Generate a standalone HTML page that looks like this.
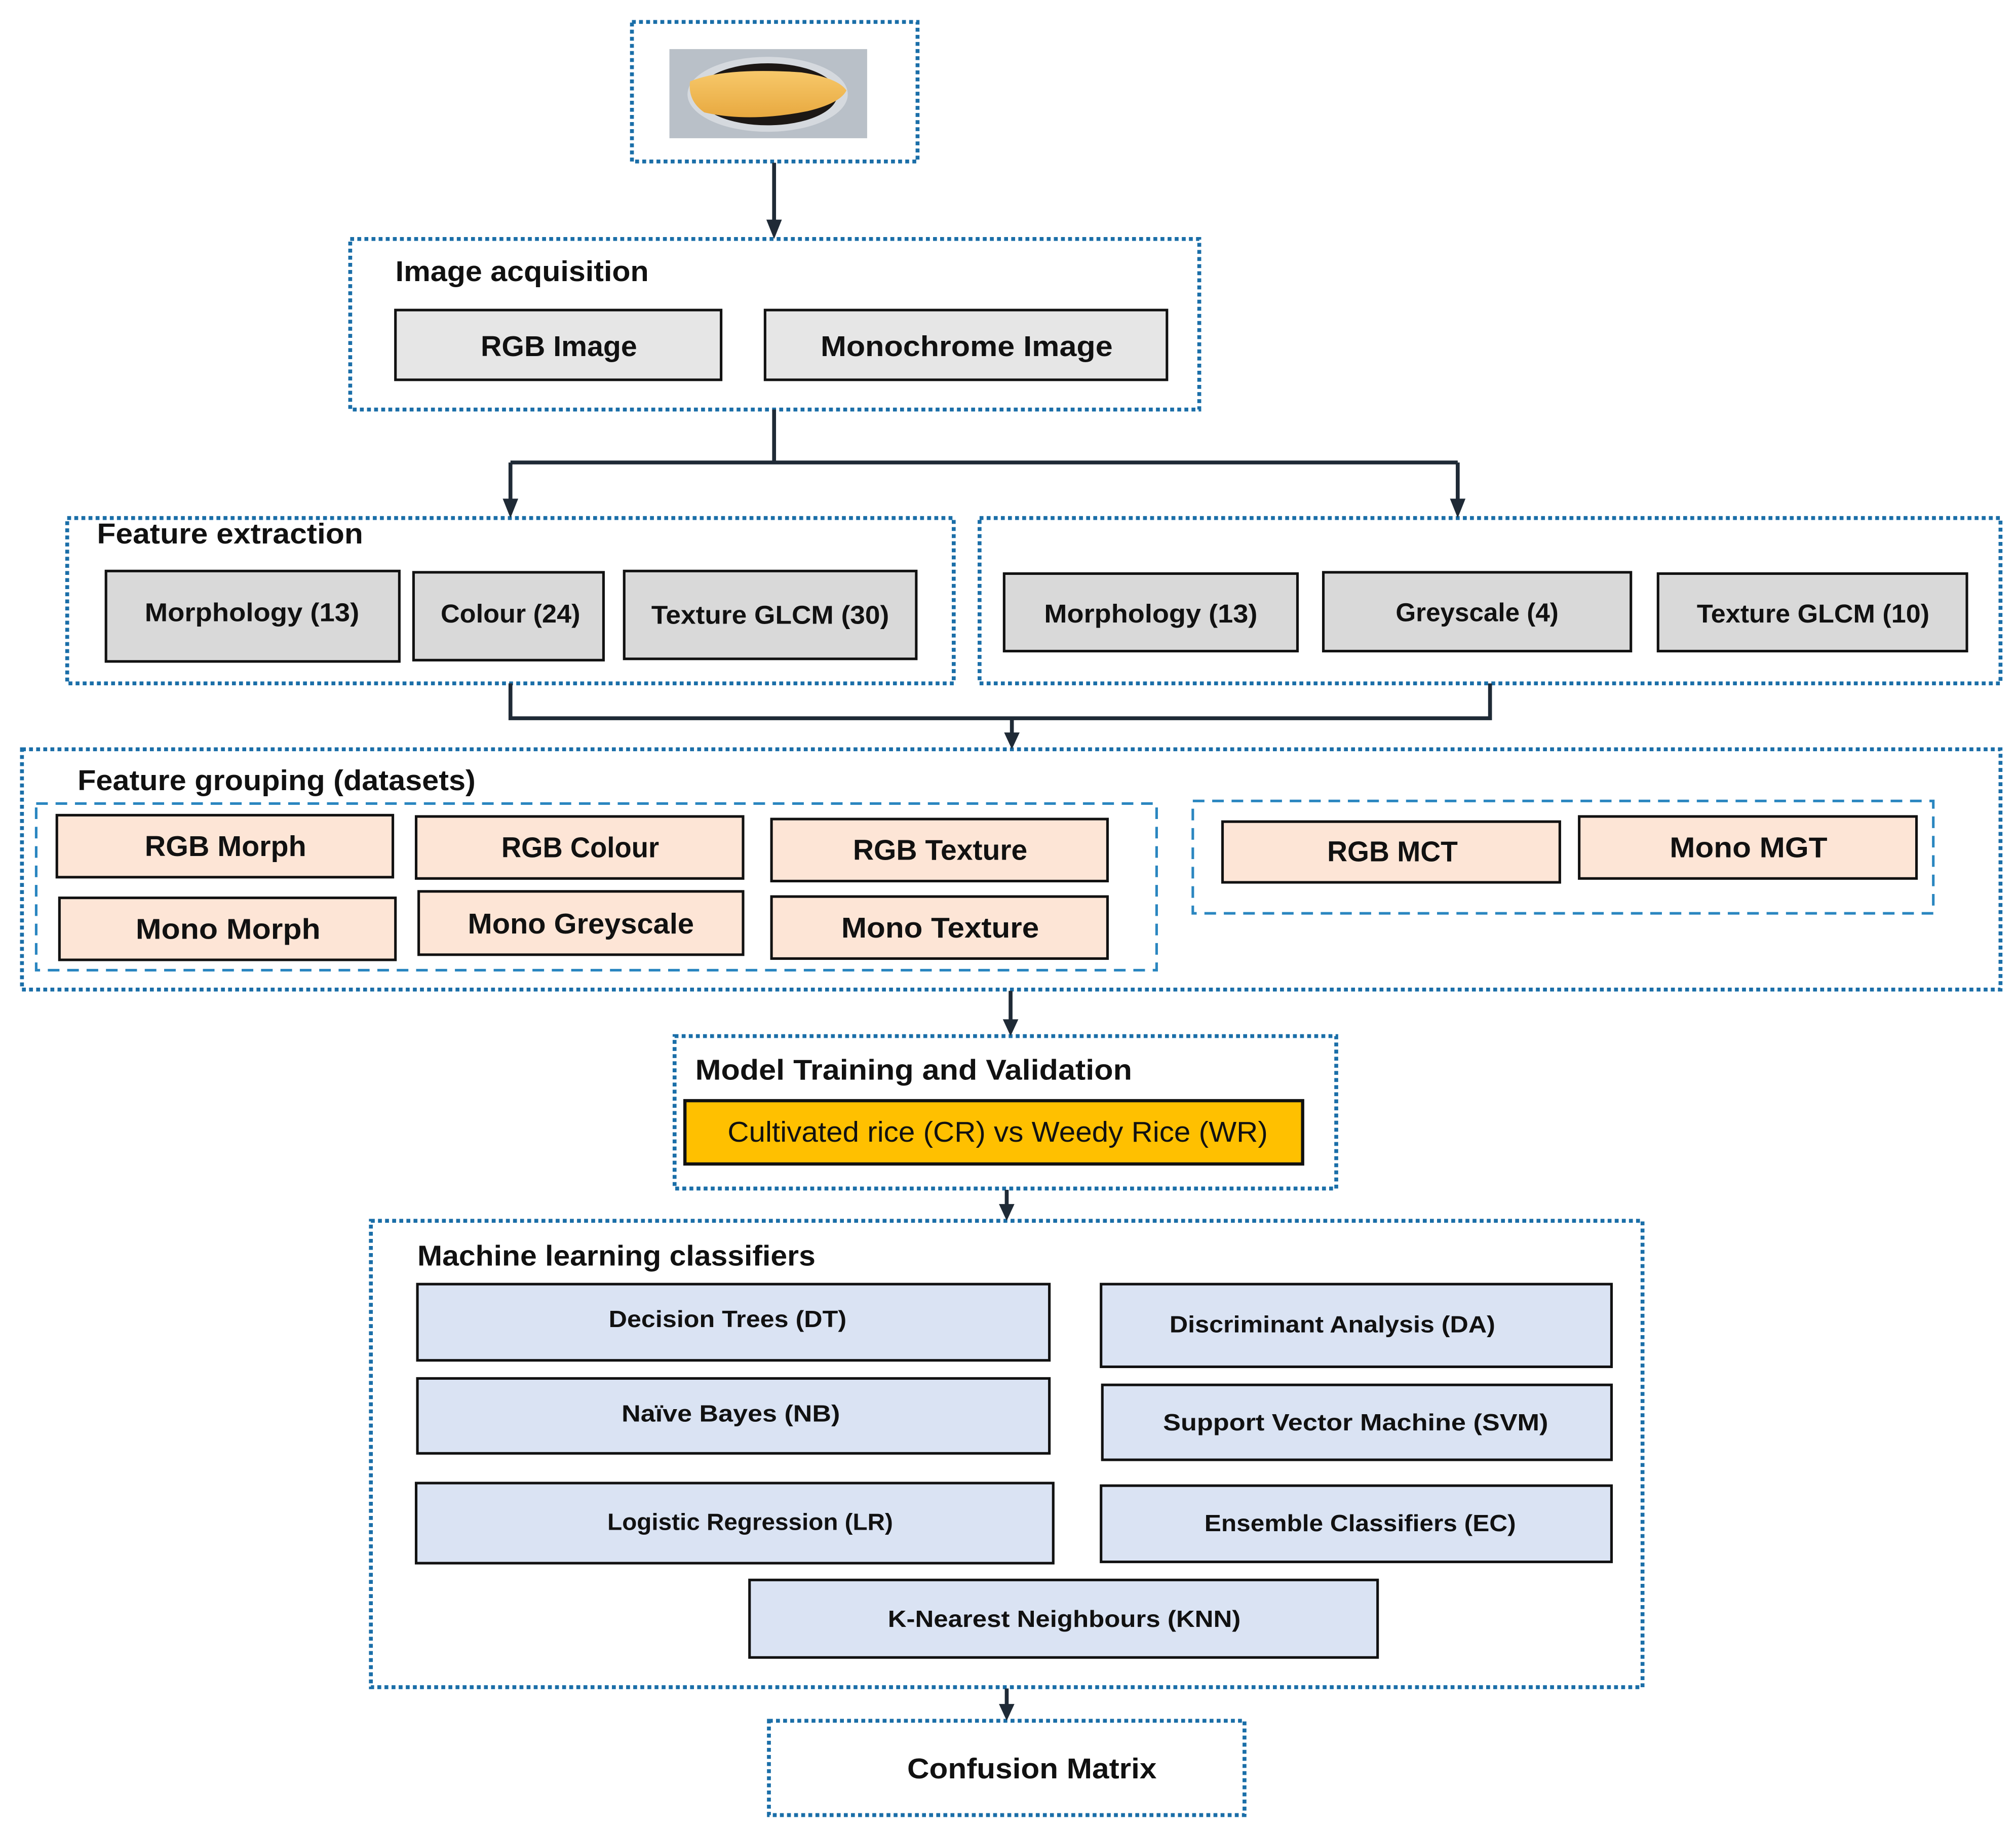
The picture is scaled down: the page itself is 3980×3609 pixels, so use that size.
<!DOCTYPE html>
<html><head><meta charset="utf-8"><style>html,body{margin:0;padding:0;background:#fff}svg{display:block}</style></head>
<body>
<svg width="3980" height="3609" viewBox="0 0 1560 1415" preserveAspectRatio="none" xmlns="http://www.w3.org/2000/svg" font-family="Liberation Sans, sans-serif" font-weight="bold">
<defs>
<linearGradient id="g" x1="0" y1="0" x2="0" y2="1"><stop offset="0" stop-color="#f7c86a"/><stop offset="1" stop-color="#e8a940"/></linearGradient>
</defs>
<g fill="none" stroke="#1a6ea8" stroke-width="3" stroke-dasharray="3 2.5">
<rect x="489" y="17" width="221" height="108"/>
<rect x="271" y="185" width="657" height="132"/>
<rect x="52" y="401" width="686" height="128"/>
<rect x="758" y="401" width="790" height="128"/>
<rect x="17" y="580" width="1531" height="186"/>
<rect x="522" y="802" width="512" height="118"/>
<rect x="287" y="945" width="984" height="361"/>
<rect x="595" y="1332" width="368" height="73"/>
</g>
<g fill="none" stroke="#2a86c0" stroke-width="2" stroke-dasharray="9 6">
<rect x="28" y="622" width="867" height="129"/>
<rect x="923" y="620" width="573" height="87"/>
</g>
<!-- rice image -->
<rect x="518" y="38" width="153" height="69" fill="#b9c0c8"/>
<ellipse cx="594" cy="73" rx="62" ry="29" fill="#d5d9de"/>
<ellipse cx="594" cy="73" rx="54" ry="24" fill="#1c1714"/>
<path d="M534,63 Q560,52 620,56 Q648,60 655,70 Q650,80 625,86 Q580,95 545,87 Q532,78 534,63 Z" fill="url(#g)"/>
<!-- connectors -->
<g stroke="#1f2a36" stroke-width="3" fill="none">
<line x1="599" y1="126" x2="599" y2="172"/>
<polyline points="599,317 599,358"/>
<line x1="395" y1="358" x2="1128" y2="358"/>
<line x1="395" y1="358" x2="395" y2="390"/>
<line x1="1128" y1="358" x2="1128" y2="390"/>
<polyline points="395,529 395,556 1153,556 1153,529"/>
<line x1="783" y1="556" x2="783" y2="570"/>
<line x1="782" y1="767" x2="782" y2="792"/>
<line x1="779" y1="921" x2="779" y2="935"/>
<line x1="779" y1="1307" x2="779" y2="1322"/>
</g>
<g fill="#1f2a36">
<polygon points="593,170 605,170 599,185"/>
<polygon points="389,386 401,386 395,401"/>
<polygon points="1122,386 1134,386 1128,401"/>
<polygon points="777,567 789,567 783,580"/>
<polygon points="776,789 788,789 782,802"/>
<polygon points="773,932 785,932 779,945"/>
<polygon points="773,1319 785,1319 779,1332"/>
</g>
<!-- boxes -->
<g stroke="#111" stroke-width="2">
<g fill="#e6e6e6">
<rect x="306" y="240" width="252" height="54"/>
<rect x="592" y="240" width="311" height="54"/>
</g>
<g fill="#d9d9d9">
<rect x="82" y="442" width="227" height="70"/>
<rect x="320" y="443" width="147" height="68"/>
<rect x="483" y="442" width="226" height="68"/>
<rect x="777" y="444" width="227" height="60"/>
<rect x="1024" y="443" width="238" height="61"/>
<rect x="1283" y="444" width="239" height="60"/>
</g>
<g fill="#fde5d6">
<rect x="44" y="631" width="260" height="48"/>
<rect x="322" y="632" width="253" height="48"/>
<rect x="597" y="634" width="260" height="48"/>
<rect x="46" y="695" width="260" height="48"/>
<rect x="324" y="690" width="251" height="49"/>
<rect x="597" y="694" width="260" height="48"/>
<rect x="946" y="636" width="261" height="47"/>
<rect x="1222" y="632" width="261" height="48"/>
</g>
<rect x="530" y="852" width="478" height="49" fill="#ffc000" stroke-width="2.5"/>
<g fill="#dae3f3">
<rect x="323" y="994" width="489" height="59"/>
<rect x="852" y="994" width="395" height="64"/>
<rect x="323" y="1067" width="489" height="58"/>
<rect x="853" y="1072" width="394" height="58"/>
<rect x="322" y="1148" width="493" height="62"/>
<rect x="852" y="1150" width="395" height="59"/>
<rect x="580" y="1223" width="486" height="60"/>
</g>
</g>
<!-- text -->
<g fill="#111" font-size="22" dominant-baseline="central">
<text x="306" y="210" textLength="196" lengthAdjust="spacingAndGlyphs">Image acquisition</text>
<text x="372" y="268" textLength="121" lengthAdjust="spacingAndGlyphs">RGB Image</text>
<text x="635" y="268" textLength="226" lengthAdjust="spacingAndGlyphs">Monochrome Image</text>
<text x="75" y="413" textLength="206" lengthAdjust="spacingAndGlyphs">Feature extraction</text>
<text x="112" y="474" font-size="20" textLength="166" lengthAdjust="spacingAndGlyphs">Morphology (13)</text>
<text x="341" y="475" font-size="20" textLength="108" lengthAdjust="spacingAndGlyphs">Colour (24)</text>
<text x="504" y="476" font-size="20" textLength="184" lengthAdjust="spacingAndGlyphs">Texture GLCM (30)</text>
<text x="808" y="475" font-size="20" textLength="165" lengthAdjust="spacingAndGlyphs">Morphology (13)</text>
<text x="1080" y="474" font-size="20" textLength="126" lengthAdjust="spacingAndGlyphs">Greyscale (4)</text>
<text x="1313" y="475" font-size="20" textLength="180" lengthAdjust="spacingAndGlyphs">Texture GLCM (10)</text>
<text x="60" y="604" textLength="308" lengthAdjust="spacingAndGlyphs">Feature grouping (datasets)</text>
<text x="112" y="655" textLength="125" lengthAdjust="spacingAndGlyphs">RGB Morph</text>
<text x="388" y="656" textLength="122" lengthAdjust="spacingAndGlyphs">RGB Colour</text>
<text x="660" y="658" textLength="135" lengthAdjust="spacingAndGlyphs">RGB Texture</text>
<text x="105" y="719" textLength="143" lengthAdjust="spacingAndGlyphs">Mono Morph</text>
<text x="362" y="715" textLength="175" lengthAdjust="spacingAndGlyphs">Mono Greyscale</text>
<text x="651" y="718" textLength="153" lengthAdjust="spacingAndGlyphs">Mono Texture</text>
<text x="1027" y="659" textLength="101" lengthAdjust="spacingAndGlyphs">RGB MCT</text>
<text x="1292" y="656" textLength="122" lengthAdjust="spacingAndGlyphs">Mono MGT</text>
<text x="538" y="828" textLength="338" lengthAdjust="spacingAndGlyphs">Model Training and Validation</text>
<text x="563" y="876" font-weight="normal" textLength="418" lengthAdjust="spacingAndGlyphs">Cultivated rice (CR) vs Weedy Rice (WR)</text>
<text x="323" y="972" textLength="308" lengthAdjust="spacingAndGlyphs">Machine learning classifiers</text>
<g font-size="18">
<text x="471" y="1021" textLength="184" lengthAdjust="spacingAndGlyphs">Decision Trees (DT)</text>
<text x="905" y="1025" textLength="252" lengthAdjust="spacingAndGlyphs">Discriminant Analysis (DA)</text>
<text x="481" y="1094" textLength="169" lengthAdjust="spacingAndGlyphs">Naïve Bayes  (NB)</text>
<text x="900" y="1101" textLength="298" lengthAdjust="spacingAndGlyphs">Support Vector Machine (SVM)</text>
<text x="470" y="1178" textLength="221" lengthAdjust="spacingAndGlyphs">Logistic Regression (LR)</text>
<text x="932" y="1179" textLength="241" lengthAdjust="spacingAndGlyphs">Ensemble  Classifiers (EC)</text>
<text x="687" y="1253" textLength="273" lengthAdjust="spacingAndGlyphs">K-Nearest Neighbours (KNN)</text>
</g>
<text x="702" y="1369" textLength="193" lengthAdjust="spacingAndGlyphs">Confusion Matrix</text>
</g>
</svg>
</body></html>
